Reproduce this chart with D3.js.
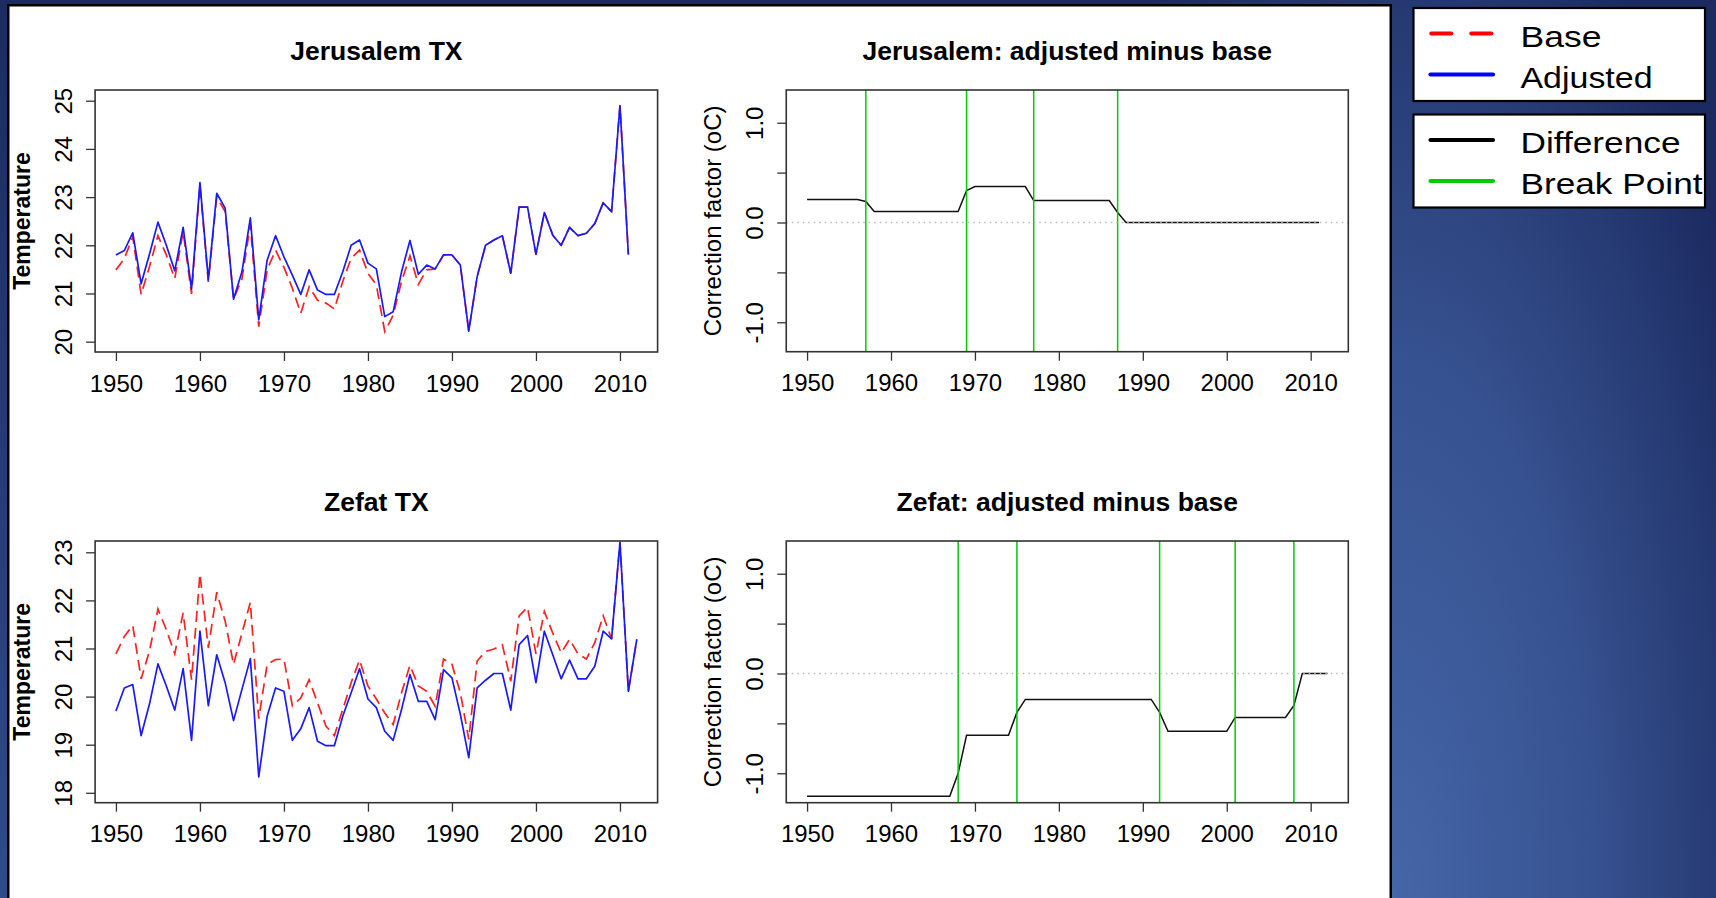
<!DOCTYPE html>
<html>
<head>
<meta charset="utf-8">
<script src="https://cdn.jsdelivr.net/npm/d3@7"></script>
<style>
  html, body { margin: 0; padding: 0; overflow: hidden; background: #1c2b62; }
  svg { display: block; }
</style>
</head>
<body>
<svg id="chart" width="1716" height="898"></svg>
<script>
// ---------------------------------------------------------------------------
// Data: annual mean maximum temperature (TX), base vs. homogenised series,
// and the correction (adjusted minus base) with detected break points.
// ---------------------------------------------------------------------------
const yearsJerusalem = d3.range(1950, 2012);   // 1950–2011
const yearsZefat = d3.range(1950, 2013);       // 1950–2012

const xTickYears = [1950, 1960, 1970, 1980, 1990, 2000, 2010];

const jerusalemBase = [
  21.49, 21.72, 22.18, 20.98, 21.56, 22.20, 21.80, 21.31, 22.28, 20.99,
  23.25, 21.24, 23.00, 22.70, 20.88, 21.30, 22.43, 20.31, 21.49, 21.90,
  21.54, 21.11, 20.59, 21.14, 20.86, 20.80, 20.68, 21.25, 21.73, 21.90,
  21.42, 21.18, 20.21, 20.55, 21.25, 21.78, 21.19, 21.49, 21.51, 21.80,
  21.80, 21.59, 20.22, 21.35, 22.00, 22.11, 22.20, 21.42, 22.79, 22.79,
  21.81, 22.68, 22.21, 22.00, 22.37, 22.20, 22.25, 22.45, 22.88, 22.70,
  24.90, 21.81
];
const jerusalemAdjusted = [
  21.80, 21.89, 22.26, 21.20, 21.82, 22.48, 22.00, 21.47, 22.37, 21.09,
  23.30, 21.28, 23.08, 22.77, 20.88, 21.45, 22.57, 20.45, 21.69, 22.20,
  21.76, 21.38, 20.98, 21.49, 21.07, 20.98, 20.98, 21.45, 22.00, 22.11,
  21.63, 21.51, 20.52, 20.62, 21.45, 22.10, 21.40, 21.59, 21.51, 21.80,
  21.80, 21.59, 20.22, 21.35, 22.00, 22.11, 22.20, 21.42, 22.79, 22.79,
  21.81, 22.68, 22.21, 22.00, 22.37, 22.20, 22.25, 22.45, 22.88, 22.70,
  24.90, 21.81
];
const jerusalemDiff = [
  0.23, 0.23, 0.23, 0.23, 0.23, 0.23, 0.23, 0.21, 0.11, 0.11,
  0.11, 0.11, 0.11, 0.11, 0.11, 0.11, 0.11, 0.11, 0.11, 0.32,
  0.36, 0.36, 0.36, 0.36, 0.36, 0.36, 0.36, 0.22, 0.22, 0.22,
  0.22, 0.22, 0.22, 0.22, 0.22, 0.22, 0.22, 0.10, 0.00, 0.00,
  0.00, 0.00, 0.00, 0.00, 0.00, 0.00, 0.00, 0.00, 0.00, 0.00,
  0.00, 0.00, 0.00, 0.00, 0.00, 0.00, 0.00, 0.00, 0.00, 0.00,
  0.00, 0.00
];
const jerusalemBreaks = [1957, 1969, 1977, 1987];

const zefatBase = [
  20.89, 21.25, 21.48, 20.37, 20.95, 21.82, 21.39, 20.89, 21.74, 20.35,
  22.55, 21.01, 22.17, 21.57, 20.67, 21.32, 21.96, 19.54, 20.67, 20.77,
  20.78, 19.81, 19.97, 20.35, 19.87, 19.39, 19.19, 19.73, 20.29, 20.76,
  20.22, 19.95, 19.66, 19.42, 20.08, 20.65, 20.22, 20.11, 19.80, 20.78,
  20.67, 20.08, 19.11, 20.74, 20.94, 20.99, 21.08, 20.32, 21.68, 21.86,
  20.89, 21.77, 21.32, 20.91, 21.19, 20.89, 20.78, 21.12, 21.68, 21.20,
  23.21, 20.11, 21.19
];
const zefatAdjusted = [
  19.70, 20.18, 20.25, 19.19, 19.85, 20.68, 20.22, 19.72, 20.58, 19.09,
  21.36, 19.81, 20.87, 20.29, 19.50, 20.15, 20.79, 18.33, 19.59, 20.18,
  20.11, 19.09, 19.33, 19.77, 19.07, 18.98, 18.98, 19.59, 20.08, 20.58,
  19.95, 19.77, 19.28, 19.09, 19.73, 20.46, 19.90, 19.90, 19.52, 20.56,
  20.39, 19.63, 18.73, 20.18, 20.34, 20.48, 20.48, 19.72, 21.08, 21.27,
  20.29, 21.36, 20.87, 20.37, 20.76, 20.37, 20.37, 20.63, 21.36, 21.20,
  23.21, 20.11, 21.19
];
const zefatDiff = [
  -1.23, -1.23, -1.23, -1.23, -1.23, -1.23, -1.23, -1.23, -1.23, -1.23,
  -1.23, -1.23, -1.23, -1.23, -1.23, -1.23, -1.23, -1.23, -1.00, -0.62,
  -0.62, -0.62, -0.62, -0.62, -0.62, -0.39, -0.26, -0.26, -0.26, -0.26,
  -0.26, -0.26, -0.26, -0.26, -0.26, -0.26, -0.26, -0.26, -0.26, -0.26,
  -0.26, -0.26, -0.39, -0.58, -0.58, -0.58, -0.58, -0.58, -0.58, -0.58,
  -0.58, -0.44, -0.44, -0.44, -0.44, -0.44, -0.44, -0.44, -0.32, 0.00,
  0.00, 0.00, 0.00
];
const zefatBreaks = [1968, 1975, 1992, 2001, 2008];

const tempTicksJerusalem = [20, 21, 22, 23, 24, 25];
const tempTicksZefat = [18, 19, 20, 21, 22, 23];
const diffTicks = [-1, -0.5, 0, 0.5, 1];

const seriesLegend = ["Base", "Adjusted"];
const diffLegend = ["Difference", "Break Point"];

// ---------------------------------------------------------------------------
// Styling
// ---------------------------------------------------------------------------
const FONT = "'Liberation Sans', Arial, Helvetica, sans-serif";
const COL_BASE = "#ff2020";
const COL_ADJ = "#1a1aff";
const COL_DIFF = "#111111";
const COL_BREAK = "#00cc00";
const COL_AXIS = "#333333";
const X_DOMAIN = [1947.52, 2014.48];

const svg = d3.select("#chart");
const defs = svg.append("defs");

// Slide background: blue gradient, brighter toward the lower left of the right margin
const bg = defs.append("radialGradient")
  .attr("id", "bg").attr("gradientUnits", "userSpaceOnUse")
  .attr("cx", 1391).attr("cy", 898).attr("r", 1100)
  .attr("gradientTransform", "translate(1391,898) scale(0.38,1) translate(-1391,-898)");
bg.append("stop").attr("offset", "0").attr("stop-color", "#4566a8");
bg.append("stop").attr("offset", "0.5").attr("stop-color", "#36518f");
bg.append("stop").attr("offset", "1").attr("stop-color", "#1b2a60");

const strip = defs.append("linearGradient")
  .attr("id", "strip").attr("x1", 0).attr("y1", 0).attr("x2", 0).attr("y2", 1);
strip.append("stop").attr("offset", "0").attr("stop-color", "#1c2b62");
strip.append("stop").attr("offset", "1").attr("stop-color", "#2f4b8c");

svg.append("rect").attr("width", 1716).attr("height", 898).attr("fill", "url(#bg)");
svg.append("rect").attr("x", 0).attr("y", 0).attr("width", 9).attr("height", 898).attr("fill", "url(#strip)");

// White plotting sheet
svg.append("rect")
  .attr("x", 8.25).attr("y", 5.25).attr("width", 1382.5).attr("height", 900)
  .attr("fill", "#ffffff").attr("stroke", "#000").attr("stroke-width", 2.5);

// ---------------------------------------------------------------------------
// Generic panel: box, axes, title and y label
// ---------------------------------------------------------------------------
function panel(cfg) {
  const x = d3.scaleLinear().domain(X_DOMAIN).range([cfg.left, cfg.right]);
  const y = d3.scaleLinear().domain(cfg.yDomain).range([cfg.bottom, cfg.top]);
  const g = svg.append("g");

  // x axis
  const xa = g.append("g")
    .attr("transform", `translate(0,${cfg.bottom})`)
    .call(d3.axisBottom(x).tickValues(xTickYears).tickSize(9).tickFormat(d3.format("d")));
  xa.select(".domain").remove();
  xa.attr("font-family", FONT).attr("font-size", 24);
  xa.selectAll(".tick line").attr("stroke", COL_AXIS).attr("stroke-width", 1.3);
  xa.selectAll(".tick text").attr("y", 39.7).attr("dy", null).attr("fill", "#000");

  // y axis (labels parallel to the axis)
  const ya = g.append("g")
    .attr("transform", `translate(${cfg.left},0)`)
    .call(d3.axisLeft(y).tickValues(cfg.yTicks).tickSize(9).tickFormat(cfg.yFormat));
  ya.select(".domain").remove();
  ya.attr("font-family", FONT).attr("font-size", 24);
  ya.selectAll(".tick line").attr("stroke", COL_AXIS).attr("stroke-width", 1.3);
  ya.selectAll(".tick text")
    .attr("transform", "rotate(-90)")
    .attr("x", 0).attr("y", -23.6).attr("dy", null)
    .attr("text-anchor", "middle").attr("fill", "#000");

  // title
  g.append("text")
    .attr("x", (cfg.left + cfg.right) / 2).attr("y", cfg.top - 30)
    .attr("text-anchor", "middle")
    .attr("font-family", FONT).attr("font-weight", "bold").attr("font-size", 26.5)
    .attr("fill", "#000")
    .text(cfg.title);

  // y label
  g.append("text")
    .attr("transform", `translate(${cfg.left - 65},${(cfg.top + cfg.bottom) / 2}) rotate(-90)`)
    .attr("text-anchor", "middle")
    .attr("font-family", FONT)
    .attr("font-weight", cfg.ylabBold ? "bold" : "normal")
    .attr("font-size", cfg.ylabBold ? 23 : 24)
    .attr("fill", "#000")
    .text(cfg.ylab);

  const plot = g.append("g");

  // frame drawn last so it sits above the data
  const frame = () => g.append("rect")
    .attr("x", cfg.left).attr("y", cfg.top)
    .attr("width", cfg.right - cfg.left).attr("height", cfg.bottom - cfg.top)
    .attr("fill", "none").attr("stroke", COL_AXIS).attr("stroke-width", 1.6);

  return { x, y, plot, frame, cfg };
}

function seriesPanel(cfg, years, base, adjusted) {
  const p = panel(cfg);
  const line = d3.line().x(d => p.x(d[0])).y(d => p.y(d[1]));
  p.plot.append("path")
    .datum(years.map((yr, i) => [yr, base[i]]))
    .attr("d", line).attr("fill", "none")
    .attr("stroke", COL_BASE).attr("stroke-width", 1.7)
    .attr("stroke-dasharray", "11,6");
  p.plot.append("path")
    .datum(years.map((yr, i) => [yr, adjusted[i]]))
    .attr("d", line).attr("fill", "none")
    .attr("stroke", COL_ADJ).attr("stroke-width", 1.7)
    .attr("stroke-linejoin", "round");
  p.frame();
}

function diffPanel(cfg, years, diff, breaks) {
  const p = panel(cfg);
  const line = d3.line().x(d => p.x(d[0])).y(d => p.y(d[1]));
  p.plot.append("path")
    .datum(years.map((yr, i) => [yr, diff[i]]))
    .attr("d", line).attr("fill", "none")
    .attr("stroke", COL_DIFF).attr("stroke-width", 1.5);
  p.plot.selectAll("line.brk")
    .data(breaks).join("line").attr("class", "brk")
    .attr("x1", d => p.x(d)).attr("x2", d => p.x(d))
    .attr("y1", cfg.top).attr("y2", cfg.bottom)
    .attr("stroke", COL_BREAK).attr("stroke-width", 1.5);
  p.plot.append("line")
    .attr("x1", cfg.left).attr("x2", cfg.right)
    .attr("y1", p.y(0)).attr("y2", p.y(0))
    .attr("stroke", "#b8b8b8").attr("stroke-width", 1.3)
    .attr("stroke-dasharray", "1.5,4");
  p.frame();
}

const diffFormat = d => (Number.isInteger(d) ? d.toFixed(1) : "");

seriesPanel({
  left: 95.1, right: 657.6, top: 90, bottom: 352,
  yDomain: [19.786, 25.222], yTicks: tempTicksJerusalem, yFormat: d3.format("d"),
  title: "Jerusalem TX", ylab: "Temperature", ylabBold: true
}, yearsJerusalem, jerusalemBase, jerusalemAdjusted);

diffPanel({
  left: 786.25, right: 1348.3, top: 90, bottom: 351.7,
  yDomain: [-1.295, 1.328], yTicks: diffTicks, yFormat: diffFormat,
  title: "Jerusalem: adjusted minus base", ylab: "Correction factor (oC)", ylabBold: false
}, yearsJerusalem, jerusalemDiff, jerusalemBreaks);

seriesPanel({
  left: 95.1, right: 657.6, top: 541, bottom: 802.7,
  yDomain: [17.794, 23.235], yTicks: tempTicksZefat, yFormat: d3.format("d"),
  title: "Zefat TX", ylab: "Temperature", ylabBold: true
}, yearsZefat, zefatBase, zefatAdjusted);

diffPanel({
  left: 786.25, right: 1348.3, top: 541, bottom: 802.7,
  yDomain: [-1.295, 1.328], yTicks: diffTicks, yFormat: diffFormat,
  title: "Zefat: adjusted minus base", ylab: "Correction factor (oC)", ylabBold: false
}, yearsZefat, zefatDiff, zefatBreaks);

// ---------------------------------------------------------------------------
// Legends (two boxes in the right margin)
// ---------------------------------------------------------------------------
function legendBox(top, labels, styles, widths) {
  const g = svg.append("g");
  g.append("rect")
    .attr("x", 1413.5).attr("y", top).attr("width", 291.5).attr("height", 93)
    .attr("fill", "#fff").attr("stroke", "#000").attr("stroke-width", 2.2);
  labels.forEach((lab, i) => {
    const cy = top + 25.5 + i * 41;
    const s = styles[i];
    g.append("line")
      .attr("x1", s.dash ? 1431.3 : 1430.5).attr("x2", s.dash ? 1492 : 1493)
      .attr("y1", cy).attr("y2", cy)
      .attr("stroke", s.color).attr("stroke-width", 4.2)
      .attr("stroke-linecap", "round")
      .attr("stroke-dasharray", s.dash || null);
    g.append("text")
      .attr("x", 1520.5).attr("y", cy + 13.3)
      .attr("font-family", FONT).attr("font-size", 29)
      .attr("textLength", widths[i]).attr("lengthAdjust", "spacingAndGlyphs")
      .attr("fill", "#000")
      .text(lab);
  });
}

legendBox(8, seriesLegend,
  [{ color: "#ff0000", dash: "20,20" }, { color: "#0000ff" }], [81, 132]);
legendBox(114.5, diffLegend,
  [{ color: "#000000" }, { color: "#00cc00" }], [160, 182]);
</script>
</body>
</html>
